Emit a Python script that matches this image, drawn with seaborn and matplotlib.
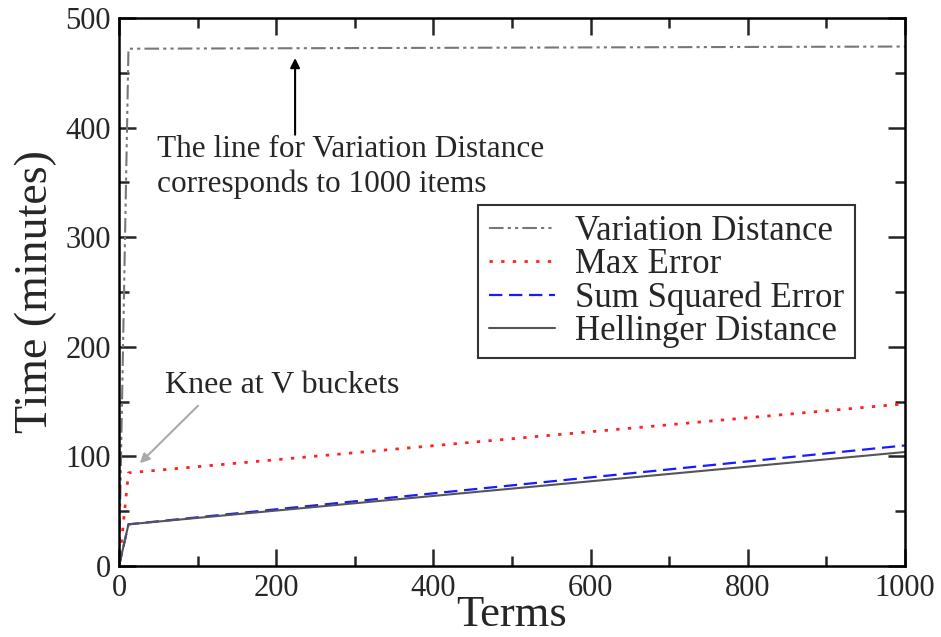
import matplotlib
matplotlib.use("Agg")
import matplotlib.pyplot as plt
import seaborn as sns

# values
knee_terms = [0, 12, 1000]
variation_distance = [0, 472, 474]
max_error = [0, 85, 148]
sum_squared_error = [0, 38, 110]
hellinger_distance = [0, 38, 104]

x_ticks = [0, 200, 400, 600, 800, 1000]
y_ticks = [0, 100, 200, 300, 400, 500]

sns.set_style("ticks")
plt.rcParams["font.family"] = ["Liberation Serif", "DejaVu Serif"]

fig = plt.figure(figsize=(9.41, 6.37), dpi=100)
ax = fig.add_axes([0.1265, 0.1115, 0.8352, 0.8602])

sns.lineplot(x=knee_terms, y=variation_distance, ax=ax, color="#777777",
             linestyle=(0, (7, 2, 1.5, 2, 1.5, 2)), linewidth=1.5,
             label="Variation Distance")
sns.lineplot(x=knee_terms, y=max_error, ax=ax, color="#ff2020",
             linestyle=(0, (1.2, 3)), linewidth=2, label="Max Error")
sns.lineplot(x=knee_terms, y=sum_squared_error, ax=ax, color="#1a1aff",
             linestyle=(0, (6, 3)), linewidth=1.6, label="Sum Squared Error")
sns.lineplot(x=knee_terms, y=hellinger_distance, ax=ax, color="#555555",
             linestyle="-", linewidth=1.5, label="Hellinger Distance")

ax.set_xlim(0, 1000)
ax.set_ylim(0, 500)
ax.set_xticks(x_ticks)
ax.set_yticks(y_ticks)
ax.set_xticks(range(100, 1000, 200), minor=True)
ax.set_yticks(range(50, 500, 100), minor=True)
ax.tick_params(which="both", direction="in", top=True, right=True,
               width=1.8, labelsize=22, pad=6)
ax.tick_params(which="major", length=12)
ax.tick_params(which="minor", length=7)
for s in ax.spines.values():
    s.set_linewidth(1.8)
    s.set_color("black")

ax.set_xlabel("Terms", fontsize=32, labelpad=-6)
ax.set_ylabel("Time (minutes)", fontsize=33, labelpad=6)

ax.annotate("", xy=(224, 466), xytext=(224, 391),
            arrowprops=dict(arrowstyle="-|>", color="black", lw=1.5,
                            mutation_scale=14))
ax.text(48, 373, "The line for Variation Distance", fontsize=22.5,
        va="baseline", ha="left")
ax.text(48, 341, "corresponds to 1000 items", fontsize=22.5,
        va="baseline", ha="left")

ax.annotate("", xy=(24, 92), xytext=(103, 148),
            arrowprops=dict(arrowstyle="-|>", color="#aaaaaa", lw=1.5,
                            mutation_scale=14))
ax.text(58, 158, "Knee at V buckets", fontsize=23, va="baseline", ha="left")

leg = ax.legend(loc="upper left", bbox_to_anchor=(0.457, 0.659), fontsize=25,
                frameon=True, fancybox=False, edgecolor="black",
                handlelength=1.9, handletextpad=0.6, labelspacing=0.0,
                borderpad=0.3, borderaxespad=0)
leg.get_frame().set_linewidth(1.5)

fig.savefig("out.png", dpi=100)
